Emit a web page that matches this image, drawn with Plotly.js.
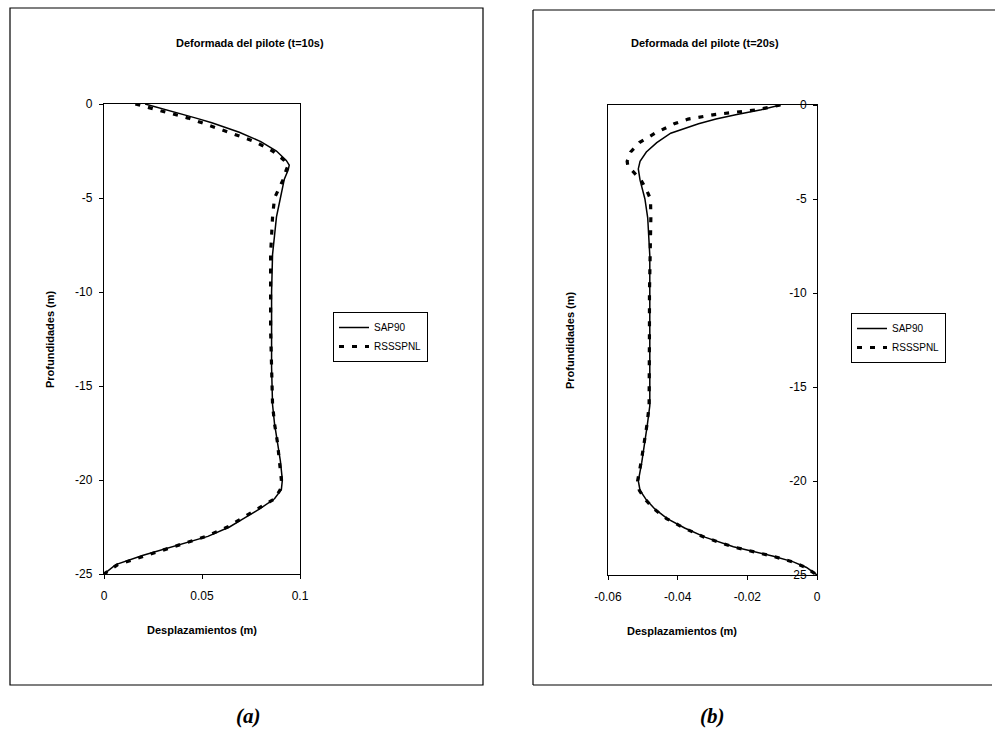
<!DOCTYPE html>
<html>
<head>
<meta charset="utf-8">
<script src="https://cdn.plot.ly/plotly-3.0.1.min.js"></script>
<style>html,body{margin:0;padding:0;background:#fff}#chart{width:995px;height:744px}</style>
</head>
<body>
<div id="chart"></div>
<script>
// ---- Data (t = 10 s) ----
const depthA_sap = [0,-0.25,-0.5,-0.75,-1,-1.5,-2,-2.5,-3,-3.25,-3.5,-4,-5,-6,-7,-8,-10,-12,-14,-16,-17,-18,-19,-20,-20.5,-21,-21.5,-22,-22.5,-23,-23.5,-24,-24.5,-25];
const dispA_sap  = [0.021,0.030,0.038,0.047,0.055,0.069,0.080,0.088,0.093,0.0945,0.094,0.092,0.090,0.088,0.087,0.086,0.0855,0.0855,0.0855,0.086,0.087,0.0885,0.090,0.091,0.0905,0.087,0.080,0.072,0.064,0.053,0.037,0.020,0.006,0];
const depthA_rss = [0,-0.25,-0.5,-0.75,-1,-1.5,-2,-2.5,-3,-3.25,-3.5,-4,-5,-6,-7,-8,-10,-12,-14,-16,-17,-18,-19,-20,-20.5,-21,-21.5,-22,-22.5,-23,-23.5,-24,-24.5,-25];
const dispA_rss  = [0.016,0.025,0.034,0.043,0.050,0.064,0.077,0.086,0.092,0.094,0.093,0.0915,0.087,0.086,0.0855,0.085,0.085,0.085,0.0855,0.086,0.087,0.0885,0.0895,0.0905,0.090,0.087,0.079,0.071,0.063,0.052,0.037,0.021,0.007,0];

// ---- Data (t = 20 s) ----
const depthB_sap = [0,-0.25,-0.5,-0.75,-1,-1.5,-2,-2.5,-3,-3.4,-4,-5,-6,-7,-8,-10,-12,-14,-16,-17,-18,-19,-20,-20.5,-21,-21.5,-22,-22.5,-23,-23.5,-24,-24.3,-24.6,-25];
const dispB_sap  = [-0.0105,-0.016,-0.023,-0.029,-0.034,-0.042,-0.046,-0.049,-0.0508,-0.0513,-0.0508,-0.0494,-0.0486,-0.0482,-0.048,-0.048,-0.048,-0.048,-0.048,-0.0487,-0.0494,-0.0503,-0.0513,-0.0508,-0.049,-0.0465,-0.043,-0.038,-0.032,-0.024,-0.0125,-0.0068,-0.003,0];
const depthB_rss = [0,-0.25,-0.5,-0.75,-1,-1.5,-2,-2.5,-3,-3.25,-3.5,-4,-4.5,-5,-6,-7,-8,-10,-12,-14,-16,-17,-18,-19,-20,-20.5,-21,-21.5,-22,-22.5,-23,-23.5,-24,-24.3,-24.6,-25];
const dispB_rss  = [-0.0105,-0.017,-0.029,-0.037,-0.041,-0.0465,-0.051,-0.0535,-0.0545,-0.0543,-0.053,-0.0505,-0.049,-0.0478,-0.0477,-0.0478,-0.048,-0.0481,-0.0481,-0.0481,-0.0482,-0.0488,-0.0496,-0.0505,-0.0515,-0.051,-0.0492,-0.0467,-0.0432,-0.0382,-0.0322,-0.0242,-0.0127,-0.007,-0.0032,0];

const seriesNames = ['SAP90','RSSSPNL'];
const titles = ['Deformada del pilote (t=10s)','Deformada del pilote (t=20s)'];
const xTitle = 'Desplazamientos (m)';
const yTitle = 'Profundidades (m)';
const panelLabels = ['(a)','(b)'];
const xTicksA = [0, 0.05, 0.1];
const xTicksB = [-0.06, -0.04, -0.02, 0];
const yTicks = [0, -5, -10, -15, -20, -25];

const W = 995, H = 744;
const px = x => x / W;
const py = y => 1 - y / H;

const F = 'Liberation Sans, Arial, sans-serif';
const solid = {color:'#000', width:1.5};
const dotted = {color:'#000', width:3.2, dash:'5px,8px'};

const traces = [
  {x:dispA_sap, y:depthA_sap, name:seriesNames[0], mode:'lines', line:solid, xaxis:'x', yaxis:'y', legend:'legend'},
  {x:dispA_rss, y:depthA_rss, name:seriesNames[1], mode:'lines', line:dotted, xaxis:'x', yaxis:'y', legend:'legend'},
  {x:dispB_sap, y:depthB_sap, name:seriesNames[0], mode:'lines', line:solid, xaxis:'x2', yaxis:'y2', legend:'legend2'},
  // same fixed range as y2; y3 only carries the depth labels drawn against the x = 0 line
  {x:dispB_rss, y:depthB_rss, name:seriesNames[1], mode:'lines', line:dotted, xaxis:'x2', yaxis:'y3', legend:'legend2'}
];

const tf = {family:F, size:12, color:'#000'};
const axBase = {
  showgrid:false, zeroline:false, showline:true, linecolor:'#000', linewidth:1.2, mirror:true,
  ticks:'outside', ticklen:4, tickcolor:'#000', tickfont:tf, fixedrange:true, tickmode:'array'
};

const layout = {
  width:W, height:H, margin:{l:0,r:0,t:0,b:0},
  paper_bgcolor:'#fff', plot_bgcolor:'#fff', showlegend:true,
  xaxis: Object.assign({}, axBase, {domain:[px(104), px(300)], range:[0,0.1], tickvals:xTicksA, ticktext:xTicksA.map(String), anchor:'y', ticklabelstandoff:6}),
  yaxis: Object.assign({}, axBase, {domain:[py(574), py(104)], range:[-25,0], tickvals:yTicks, ticktext:yTicks.map(String), anchor:'x', ticklabelstandoff:4}),
  xaxis2: Object.assign({}, axBase, {domain:[px(608), px(817)], range:[-0.06,0], tickvals:xTicksB, ticktext:xTicksB.map(String), anchor:'y2', ticklabelstandoff:6}),
  yaxis2: Object.assign({}, axBase, {domain:[py(575), py(105)], range:[-25,0], anchor:'x2', showticklabels:false, ticks:''}),
  yaxis3: Object.assign({}, axBase, {domain:[py(575), py(105)], range:[-25,0], overlaying:'y2', anchor:'free', position:px(817), side:'left',
           showline:false, mirror:false, tickvals:yTicks, ticktext:yTicks.map(String), ticklabelstandoff:4}),
  legend: {x:px(333), y:py(312), xanchor:'left', yanchor:'top', bordercolor:'#000', borderwidth:1, bgcolor:'#fff',
           font:{family:F, size:10, color:'#000'}, tracegroupgap:0},
  legend2: {x:px(851), y:py(313), xanchor:'left', yanchor:'top', bordercolor:'#000', borderwidth:1, bgcolor:'#fff',
           font:{family:F, size:10, color:'#000'}, tracegroupgap:0},
  annotations: [
    {text:titles[0], xref:'paper', yref:'paper', x:px(250), y:py(43), xanchor:'center', yanchor:'middle', showarrow:false, font:{family:F, size:11, color:'#000', weight:'bold'}},
    {text:titles[1], xref:'paper', yref:'paper', x:px(705), y:py(43), xanchor:'center', yanchor:'middle', showarrow:false, font:{family:F, size:11, color:'#000', weight:'bold'}},
    {text:xTitle, xref:'paper', yref:'paper', x:px(202), y:py(630), xanchor:'center', yanchor:'middle', showarrow:false, font:{family:F, size:11, color:'#000', weight:'bold'}},
    {text:xTitle, xref:'paper', yref:'paper', x:px(682), y:py(631), xanchor:'center', yanchor:'middle', showarrow:false, font:{family:F, size:11, color:'#000', weight:'bold'}},
    {text:yTitle, xref:'paper', yref:'paper', x:px(50), y:py(339), xanchor:'center', yanchor:'middle', textangle:-90, showarrow:false, font:{family:F, size:11, color:'#000', weight:'bold'}},
    {text:yTitle, xref:'paper', yref:'paper', x:px(570), y:py(340), xanchor:'center', yanchor:'middle', textangle:-90, showarrow:false, font:{family:F, size:11, color:'#000', weight:'bold'}},
    {text:panelLabels[0], xref:'paper', yref:'paper', x:px(248), y:py(716), xanchor:'center', yanchor:'middle', showarrow:false, font:{family:'Liberation Serif, Times New Roman, serif', size:21, color:'#000', style:'italic', weight:'bold'}},
    {text:panelLabels[1], xref:'paper', yref:'paper', x:px(712), y:py(716), xanchor:'center', yanchor:'middle', showarrow:false, font:{family:'Liberation Serif, Times New Roman, serif', size:21, color:'#000', style:'italic', weight:'bold'}}
  ],
  shapes: [
    {type:'rect', xref:'paper', yref:'paper', x0:px(10), x1:px(483), y0:py(685), y1:py(8), line:{color:'#000', width:1.2}},
    {type:'line', xref:'paper', yref:'paper', x0:px(533), x1:px(995), y0:py(10), y1:py(10), line:{color:'#000', width:1.2}},
    {type:'line', xref:'paper', yref:'paper', x0:px(533), x1:px(533), y0:py(10), y1:py(685), line:{color:'#000', width:1.2}},
    {type:'line', xref:'paper', yref:'paper', x0:px(533), x1:px(992), y0:py(685), y1:py(685), line:{color:'#000', width:1.2}}
  ]
};

Plotly.newPlot('chart', traces, layout, {displayModeBar:false, staticPlot:true});
</script>
</body>
</html>
